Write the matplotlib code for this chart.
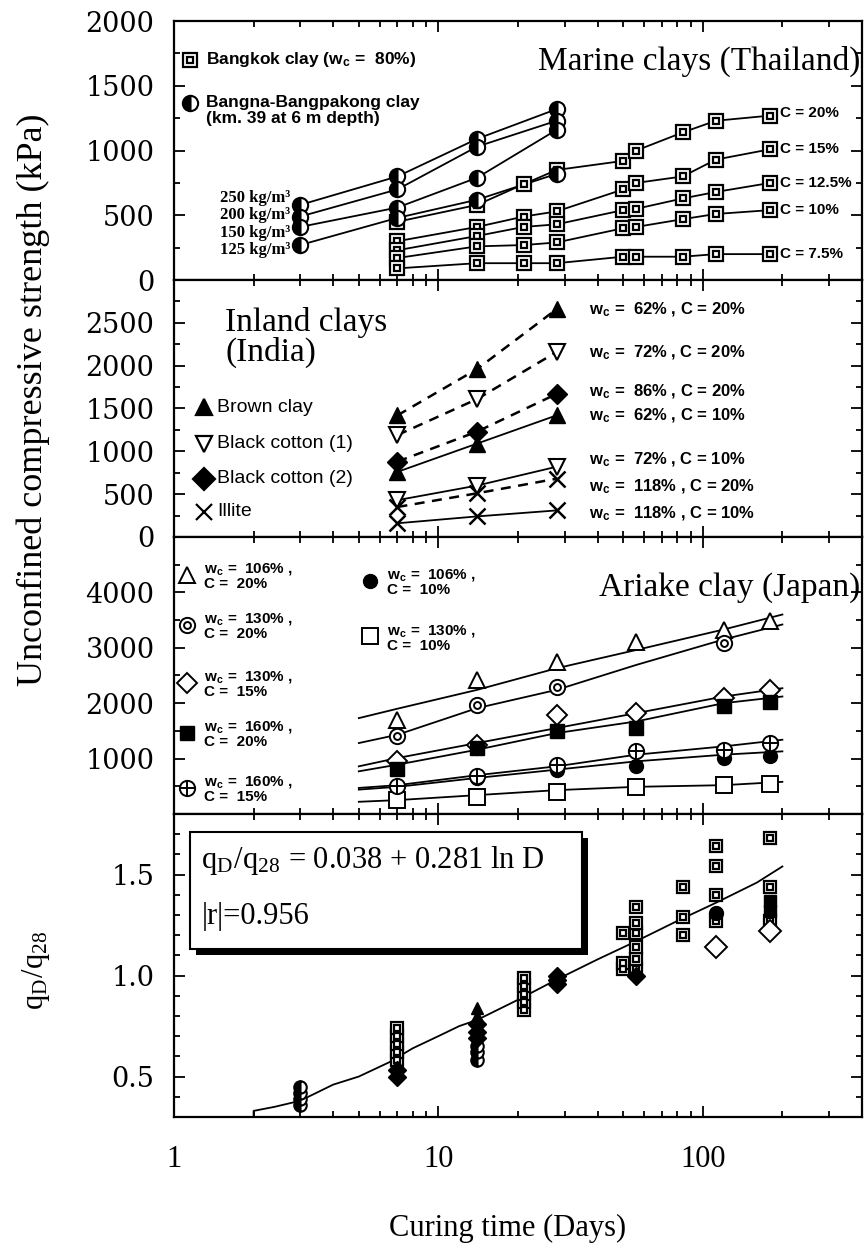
import numpy as np
import matplotlib
matplotlib.use('Agg')
import matplotlib.pyplot as plt
from matplotlib.ticker import MultipleLocator
from matplotlib.patches import Rectangle
import matplotlib.patheffects as pe

plt.rcParams['font.family'] = 'Liberation Serif'
plt.rcParams['mathtext.fontset'] = 'stix'

### DATA ######################################################################
# Marine clays (Thailand) - Bangkok clay, w_c = 80%
bk_days  = [7, 14, 21, 28, 50, 56, 84, 112, 180]
bk_q20   = [450, 580, 740, 850, 920, 1000, 1140, 1230, 1270]
bk_q15   = [300, 410, 490, 530, 700, 750, 800, 930, 1010]
bk_q125  = [230, 340, 410, 430, 540, 550, 630, 680, 750]
bk_q10   = [170, 260, 270, 290, 400, 410, 470, 510, 540]
bk_q75   = [90, 130, 130, 130, 180, 180, 180, 200, 200]
bk_names = ['C = 20%', 'C = 15%', 'C = 12.5%', 'C = 10%', 'C = 7.5%']

# Bangna-Bangpakong clay
bn_days  = [3, 7, 14, 28]
bn_q250  = [580, 800, 1090, 1320]
bn_q200  = [490, 700, 1030, 1230]
bn_q150  = [410, 560, 790, 1160]
bn_q125  = [270, 480, 620, 820]
bn_names = ['250 kg/m³', '200 kg/m³', '150 kg/m³', '125 kg/m³']

# Inland clays (India)
in_days   = [7, 14, 28]
brown20   = [1420, 1960, 2660]
bc1_20    = [1190, 1610, 2160]
bc2_20    = [880, 1230, 1670]
brown10   = [760, 1090, 1420]
bc1_10    = [430, 600, 820]
illite20  = [350, 510, 680]
illite10  = [160, 240, 310]
in_names  = ['62% , C = 20%', '72% , C = 20%', '86% , C = 20%', '62% , C = 10%',
             '72% , C = 10%', '118% , C = 20%', '118% , C = 10%']

# Ariake clay (Japan)
ar_days     = [7, 14, 28, 56, 120, 180]
ar_106_20   = [1700, 2420, 2750, 3110, 3320, 3480]
ar_130_20_d = [7, 14, 28, 120]
ar_130_20   = [1400, 1970, 2300, 3080]
ar_130_15   = [960, 1250, 1790, 1820, 2090, 2240]
ar_160_20   = [810, 1190, 1490, 1550, 1940, 2030]
ar_160_15   = [500, 680, 890, 1130, 1160, 1280]
ar_106_10   = [480, 650, 800, 860, 1010, 1040]
ar_130_10   = [250, 310, 400, 490, 520, 550]
# fitted curves
fit_days    = [5, 7, 14, 28, 56, 120, 200]
fit_106_20  = [1730, 1900, 2240, 2630, 2960, 3330, 3600]
fit_130_20  = [1280, 1430, 1910, 2240, 2690, 3150, 3420]
fit_130_15  = [860, 1010, 1280, 1550, 1820, 2120, 2270]
fit_160_20  = [770, 890, 1160, 1460, 1670, 2000, 2120]
fit_160_15  = [470, 520, 700, 860, 1070, 1220, 1340]
fit_106_10  = [440, 490, 650, 800, 950, 1070, 1130]
fit_130_10  = [220, 250, 340, 430, 490, 520, 580]

# normalised strength q_D/q_28
r_sq_d   = [7, 7, 7, 7, 7, 21, 21, 21, 21, 21, 50, 50, 50, 56, 56, 56, 56, 56, 56,
            84, 84, 84, 112, 112, 112, 112, 180, 180, 180]
r_sq_v   = [0.58, 0.62, 0.66, 0.70, 0.74, 0.83, 0.87, 0.91, 0.95, 0.99, 1.03, 1.06, 1.21,
            1.03, 1.08, 1.14, 1.21, 1.26, 1.34, 1.20, 1.29, 1.44, 1.27, 1.40, 1.54, 1.64,
            1.27, 1.44, 1.68]
r_hc_d   = [3, 3, 3, 3, 14, 14, 14]
r_hc_v   = [0.36, 0.39, 0.42, 0.45, 0.58, 0.62, 0.65]
r_fd_d   = [7, 7, 14, 14, 14, 28, 28, 28, 56]
r_fd_v   = [0.50, 0.53, 0.69, 0.72, 0.76, 0.96, 0.98, 1.0, 1.0]
r_ft_d   = [14, 14]
r_ft_v   = [0.80, 0.84]
r_fc_d   = [112]
r_fc_v   = [1.31]
r_fs_d   = [180, 180]
r_fs_v   = [1.32, 1.37]
r_od_d   = [112, 180]
r_od_v   = [1.14, 1.22]
curve_d  = [2.0, 2.0, 2.4, 3.0, 4.0, 5.0, 6.5, 8.0, 10, 12, 14, 20, 28, 40, 56, 80, 112, 160, 200]
curve_v  = [0.30, 0.33, 0.35, 0.38, 0.46, 0.50, 0.57, 0.64, 0.70, 0.75, 0.78, 0.88, 0.98,
            1.08, 1.17, 1.27, 1.36, 1.46, 1.54]

### HELPERS ###################################################################
WC = r'w$_{\mathdefault{c}}$'
SANS = 'Liberation Sans'
TICKFONT = 'DejaVu Serif'

def sq_dot(ax, x, y, ms=10, z=3):
    ax.plot(x, y, 's', ms=ms, mfc='white', mec='k', mew=1.6, ls='none', zorder=z)
    ax.plot(x, y, 's', ms=ms*0.45, mfc='white', mec='k', mew=1.6, ls='none', zorder=z)

def half_circ(ax, x, y, ms=11, z=3):
    ax.plot(x, y, 'o', ms=ms, fillstyle='left', mfc='k', mfcalt='white', mec='k',
            mew=1.5, ls='none', zorder=z)

def circ_in(ax, x, y, ms=11, z=3):
    ax.plot(x, y, 'o', ms=ms, mfc='white', mec='k', mew=1.4, ls='none', zorder=z)
    ax.plot(x, y, 'o', ms=ms*0.45, mfc='white', mec='k', mew=1.4, ls='none', zorder=z)

def circ_plus(ax, x, y, ms=11, z=3):
    ax.plot(x, y, 'o', ms=ms, mfc='white', mec='k', mew=1.4, ls='none', zorder=z)
    ax.plot(x, y, '+', ms=ms, mec='k', mew=1.4, ls='none', zorder=z)

def style_ax(ax):
    ax.set_xscale('log')
    ax.set_xlim(1, 400)
    ax.set_xticks([1, 10, 100])
    ax.set_xticklabels(['1', '10', '100'], fontsize=22)
    ax.tick_params(which='both', direction='in', top=True, right=True, width=1.3, pad=14)
    ax.tick_params(which='major', length=8)
    ax.tick_params(which='minor', length=4)
    ax.tick_params(axis='x', labelbottom=False)
    for s in ax.spines.values():
        s.set_linewidth(1.6)

def ylabels(ax):
    for t in ax.get_yticklabels():
        t.set_fontfamily(TICKFONT)
        t.set_fontsize(19.5)

### FIGURE ####################################################################
fig = plt.figure(figsize=(8.67, 12.54), dpi=100)
L, W = 0.2007, 0.7935
ax1 = fig.add_axes([L, 0.7767, W, 0.2065])
ax2 = fig.add_axes([L, 0.5718, W, 0.2049])
ax3 = fig.add_axes([L, 0.3509, W, 0.2209])
ax4 = fig.add_axes([L, 0.1093, W, 0.2416])
for ax in (ax1, ax2, ax3, ax4):
    style_ax(ax)

# --- Panel 1: Marine clays ---
for q in (bk_q20, bk_q15, bk_q125, bk_q10, bk_q75):
    ax1.plot(bk_days, q, '-', color='k', lw=1.3, zorder=2)
    sq_dot(ax1, bk_days, q)
for q in (bn_q250, bn_q200, bn_q150, bn_q125):
    ax1.plot(bn_days, q, '-', color='k', lw=1.3, zorder=2)
    half_circ(ax1, bn_days, q)
for name, yv in zip(bk_names, [1290, 1010, 750, 540, 200]):
    ax1.text(196, yv, name, ha='left', va='center', family=SANS, fontweight='bold', fontsize=11)
for name, yv in zip(bn_names, [630, 500, 360, 230]):
    ax1.text(2.75, yv, name, ha='right', va='center', fontweight='bold', fontsize=12)
sq_dot(ax1, [1.15], [1700])
ax1.text(1.32, 1700, 'Bangkok clay (' + WC + ' =  80%)', va='center', family=SANS,
         fontweight='bold', fontsize=12.5)
half_circ(ax1, [1.15], [1370])
ax1.text(1.32, 1370, 'Bangna-Bangpakong clay', va='center', family=SANS, fontweight='bold', fontsize=12.5)
ax1.text(1.32, 1245, '(km. 39 at 6 m depth)', va='center', family=SANS, fontweight='bold', fontsize=12.5)
ax1.text(395, 1690, 'Marine clays (Thailand)', ha='right', va='center', fontsize=24)
ax1.set_ylim(0, 2000)
ax1.set_yticks([0, 500, 1000, 1500, 2000])
ax1.yaxis.set_minor_locator(MultipleLocator(250))

# --- Panel 2: Inland clays ---
dash = (0, (4, 3))
ax2.plot(in_days, brown20, '^', ls=dash, color='k', ms=11, lw=1.8)
ax2.plot(in_days, bc1_20, 'v', ls=dash, color='k', ms=11, mfc='white', mew=1.5, lw=1.8)
ax2.plot(in_days, bc2_20, 'D', ls=dash, color='k', ms=10, lw=1.8)
ax2.plot(in_days, brown10, '^', ls='-', color='k', ms=11, lw=1.3)
ax2.plot(in_days, bc1_10, 'v', ls='-', color='k', ms=11, mfc='white', mew=1.5, lw=1.3)
ax2.plot(in_days, illite20, 'x', ls=dash, color='k', ms=12, mew=1.8, lw=1.8)
ax2.plot(in_days, illite10, 'x', ls='-', color='k', ms=12, mew=1.8, lw=1.3)
for name, yv in zip(in_names, [2660, 2160, 1710, 1420, 910, 600, 280]):
    ax2.text(37, yv, WC + ' =  ' + name, ha='left', va='center', family=SANS,
             fontweight='bold', fontsize=12)
ax2.text(1.56, 2500, 'Inland clays', va='center', fontsize=24)
ax2.text(1.56, 2150, '(India)', va='center', fontsize=24)
leg2 = [('^', 'k', 'Brown clay', 1515), ('v', 'white', 'Black cotton (1)', 1090),
        ('D', 'k', 'Black cotton (2)', 680), ('x', 'k', 'Illite', 295)]
for m, fc, txt, yv in leg2:
    ax2.plot([1.3], [yv], m, color='k', mfc=fc, ms=11, mew=1.6)
    ax2.text(1.46, yv, txt, va='center', family=SANS, fontsize=14)
ax2.set_ylim(0, 3000)
ax2.set_yticks([0, 500, 1000, 1500, 2000, 2500])
ax2.yaxis.set_minor_locator(MultipleLocator(250))

# --- Panel 3: Ariake clay ---
for f in (fit_106_20, fit_130_20, fit_130_15, fit_160_20, fit_160_15, fit_106_10, fit_130_10):
    ax3.plot(fit_days, f, '-', color='k', lw=1.3, zorder=2)
ax3.plot(ar_days, ar_106_20, '^', ls='none', ms=11, mfc='white', mec='k', mew=1.4)
circ_in(ax3, ar_130_20_d, ar_130_20)
ax3.plot(ar_days, ar_130_15, 'D', ls='none', ms=10, mfc='white', mec='k', mew=1.4)
ax3.plot(ar_days, ar_160_20, 's', ls='none', ms=10, mfc='k', mec='k')
ax3.plot(ar_days, ar_106_10, 'o', ls='none', ms=10, mfc='k', mec='k')
circ_plus(ax3, ar_days, ar_160_15)
ax3.plot(ar_days, ar_130_10, 's', ls='none', ms=12, mfc='white', mec='k', mew=1.4)
ax3.text(395, 4080, 'Ariake clay (Japan)', ha='right', va='center', fontsize=24)
lkw = dict(va='center', family=SANS, fontweight='bold', fontsize=11, linespacing=1.0)
ax3.plot([1.12], [4320], '^', ms=11, mfc='white', mec='k', mew=1.4)
ax3.text(1.3, 4300, WC + ' =  106% ,\nC =  20%', **lkw)
circ_in(ax3, [1.12], [3415])
ax3.text(1.3, 3400, WC + ' =  130% ,\nC =  20%', **lkw)
ax3.plot([1.12], [2360], 'D', ms=10, mfc='white', mec='k', mew=1.4)
ax3.text(1.3, 2340, WC + ' =  130% ,\nC =  15%', **lkw)
ax3.plot([1.12], [1460], 's', ms=10, mfc='k', mec='k')
ax3.text(1.3, 1440, WC + ' =  160% ,\nC =  20%', **lkw)
circ_plus(ax3, [1.12], [465])
ax3.text(1.3, 450, WC + ' =  160% ,\nC =  15%', **lkw)
ax3.plot([5.5], [4200], 'o', ms=10, mfc='k', mec='k')
ax3.text(6.4, 4180, WC + ' =  106% ,\nC =  10%', **lkw)
ax3.plot([5.5], [3205], 's', ms=12, mfc='white', mec='k', mew=1.4)
ax3.text(6.4, 3180, WC + ' =  130% ,\nC =  10%', **lkw)
ax3.set_ylim(0, 5000)
ax3.set_yticks([1000, 2000, 3000, 4000])
ax3.yaxis.set_minor_locator(MultipleLocator(500))

# --- Panel 4: normalised strength ---
ax4.plot(curve_d, curve_v, '-', color='k', lw=1.3, zorder=2)
sq_dot(ax4, r_sq_d, r_sq_v, ms=9)
half_circ(ax4, r_hc_d, r_hc_v, ms=9)
ax4.plot(r_fd_d, r_fd_v, 'D', ls='none', ms=9, mfc='k', mec='k', zorder=3)
ax4.plot(r_ft_d, r_ft_v, '^', ls='none', ms=9, mfc='k', mec='k', zorder=3)
ax4.plot(r_fc_d, r_fc_v, 'o', ls='none', ms=10, mfc='k', mec='k', zorder=3)
ax4.plot(r_fs_d, r_fs_v, 's', ls='none', ms=9, mfc='k', mec='k', zorder=3)
ax4.plot(r_od_d, r_od_v, 'D', ls='none', ms=11, mfc='white', mec='k', mew=1.4, zorder=3)
box = Rectangle((1.15, 1.13), 35 - 1.15, 1.71 - 1.13, fc='white', ec='k', lw=1.5, zorder=4,
                path_effects=[pe.SimplePatchShadow(offset=(4, -4), shadow_rgbFace='k', alpha=1),
                              pe.Normal()])
ax4.add_patch(box)
ax4.text(1.27, 1.57, r'q$_{\mathdefault{D}}$/q$_{\mathdefault{28}}$ = 0.038 + 0.281 ln D',
         va='center', fontsize=22, zorder=5)
ax4.text(1.27, 1.29, '|r|=0.956', va='center', fontsize=22, zorder=5)
ax4.set_ylim(0.3, 1.8)
ax4.set_yticks([0.5, 1.0, 1.5])
ax4.set_yticklabels(['0.5', '1.0', '1.5'])
ax4.yaxis.set_minor_locator(MultipleLocator(0.1))
ax4.tick_params(axis='x', labelbottom=True, pad=20)

for ax in (ax1, ax2, ax3, ax4):
    ylabels(ax)

fig.text(0.038, 0.681, 'Unconfined compressive strength (kPa)', rotation=90,
         ha='center', va='center', fontsize=26)
fig.text(0.042, 0.2265, r'q$_{\mathdefault{D}}$/q$_{\mathdefault{28}}$', rotation=90,
         ha='center', va='center', fontsize=22)
fig.text(0.585, 0.0207, 'Curing time (Days)', ha='center', va='center', fontsize=22)

fig.savefig('out.png', dpi=100)
